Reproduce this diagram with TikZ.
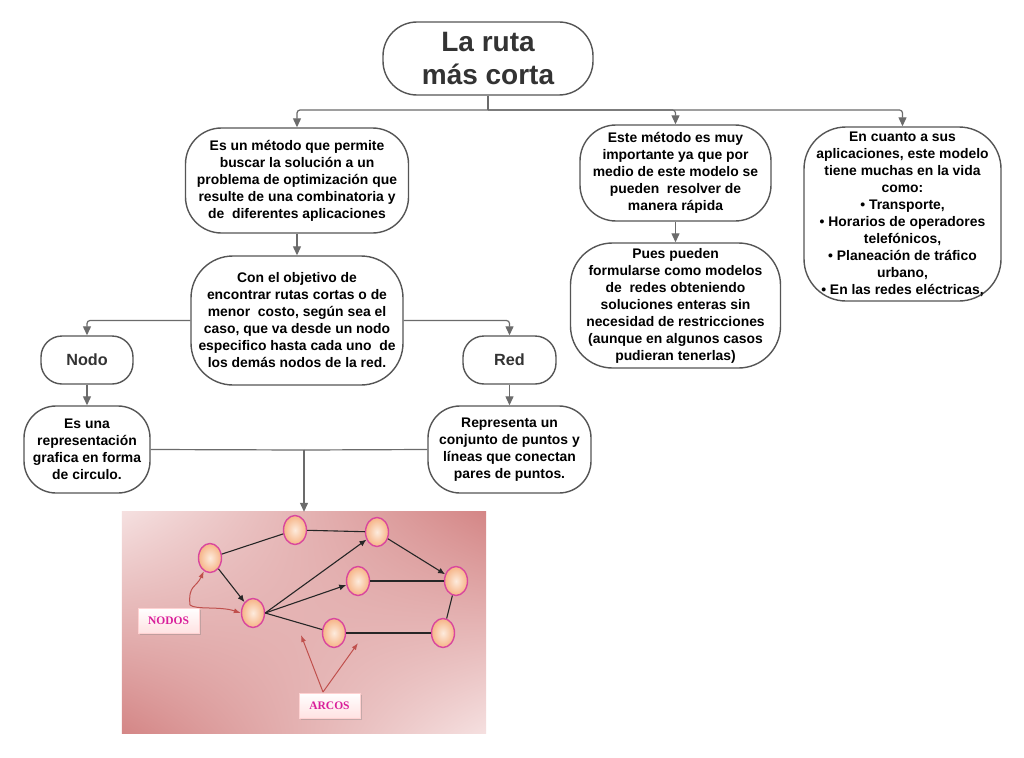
\documentclass[tikz,border=0pt]{standalone}
\usepackage{fontspec}
\setmainfont{Liberation Sans}
\newfontfamily\serifl{Liberation Serif}
\usetikzlibrary{arrows.meta,shapes.geometric,shadows,shadings}
\definecolor{boxgray}{HTML}{555555}
\definecolor{linegray}{HTML}{6B6B6B}
\definecolor{titlegray}{HTML}{333333}
\definecolor{pinkdark}{HTML}{D48686}
\definecolor{pinklight}{HTML}{F5E0E0}
\definecolor{nodeedge}{HTML}{D9479E}
\definecolor{peach}{HTML}{F6B486}
\definecolor{peachlight}{HTML}{FDEBDD}
\definecolor{labmag}{HTML}{D91E9A}
\definecolor{redarrow}{HTML}{C0504D}
\tikzset{
  box/.style={draw=boxgray, line width=1.4pt, fill=white, align=center, inner sep=2pt,
    font=\bfseries\fontsize{13.9}{17}\selectfont},
  bigbox/.style={box, font=\bfseries\fontsize{16.2}{20}\selectfont, text=titlegray},
  conn/.style={draw=linegray, line width=1.2pt},
  arrow/.style={conn, -{Triangle[width=8pt,length=9pt]}, rounded corners=3pt},
  gnode/.style={ellipse, draw=nodeedge, line width=1.4pt, minimum width=23pt, minimum height=29pt,
    inner sep=0pt, inner color=peachlight, outer color=peach},
  gedge/.style={draw=black!85, line width=1.1pt},
  garrow/.style={gedge, -{Latex[length=7pt,width=6pt]}},
  lab/.style={draw=pink!70!white, line width=0.6pt, top color=white, bottom color=pink!45!white,
    drop shadow={shadow xshift=1.5pt, shadow yshift=-1.5pt, opacity=0.35},
    text=labmag, font=\serifl\bfseries\fontsize{11.5}{13}\selectfont, minimum width=61pt, minimum height=25pt, inner sep=1pt},
  redarr/.style={draw=redarrow, line width=1pt, -{Latex[length=7pt,width=5pt]}}
}
\begin{document}
\begin{tikzpicture}[x={(1pt,0)}, y={(0,-1pt)}]
\useasboundingbox (0,0) rectangle (1024,757);
\fill[white] (0,0) rectangle (1024,757);

% title
\node[box, minimum width=210pt, minimum height=73pt, rounded corners=34pt,
  font=\bfseries\fontsize{28}{33}\selectfont, text=titlegray] (T) at (488,58.5) {La ruta\\más corta};

\node[box, minimum width=223pt, minimum height=105pt, rounded corners=36pt] (A) at (297,180.5)
 {Es un método que permite\\buscar la solución a un\\problema de optimización que\\resulte de una combinatoria y\\de~ diferentes aplicaciones};
\node[box, minimum width=212pt, minimum height=129pt, rounded corners=42pt] (B) at (297,320.5)
 {Con el objetivo de\\encontrar rutas cortas o de\\menor~ costo, según sea el\\caso, que va desde un nodo\\especifico hasta cada uno~ de\\los demás nodos de la red.};
\node[box, minimum width=191pt, minimum height=96pt, rounded corners=36pt] (C) at (675.5,173)
 {Este método es muy\\importante ya que por\\medio de este modelo se\\pueden~ resolver de\\manera rápida};
\node[box, minimum width=210pt, minimum height=125pt, rounded corners=42pt] (D) at (675.5,305.5)
 {Pues pueden\\formularse como modelos\\de~ redes obteniendo\\soluciones enteras sin\\necesidad de restricciones\\(aunque en algunos casos\\pudieran tenerlas)};
\node[box, minimum width=197pt, minimum height=174pt, rounded corners=42pt] (E) at (902.5,214)
 {En cuanto a sus\\aplicaciones, este modelo\\tiene muchas en la vida\\como:\\• Transporte,\\• Horarios de operadores\\telefónicos,\\• Planeación de tráfico\\urbano,\\• En las redes eléctricas,};
\node[bigbox, minimum width=92pt, minimum height=48pt, rounded corners=21pt] (N) at (87,360) {Nodo};
\node[bigbox, minimum width=93pt, minimum height=48pt, rounded corners=21pt] (R) at (509.5,360) {Red};
\node[box, minimum width=126pt, minimum height=87pt, rounded corners=32pt] (F) at (87,449.5)
 {Es una\\representación\\grafica en forma\\de circulo.};
\node[box, minimum width=163pt, minimum height=87pt, rounded corners=32pt] (G) at (509.5,449.5)
 {Representa un\\conjunto de puntos y\\líneas que conectan\\pares de puntos.};

% picture
\node[minimum width=364pt, minimum height=221pt, inner sep=0pt] (img) at (304,622.5) {};
\shade[upper left=pinklight, upper right=pinkdark, lower left=pinkdark, lower right=pinklight]
  (img.north west) rectangle (img.south east);

% connectors
\coordinate (j1) at (488,110);
\draw[conn] (T.south) -- (j1);
\draw[arrow] (j1) -| (A.north);
\draw[arrow] (j1) -| (C.north);
\draw[arrow] (j1) -| (E.north);
\draw[arrow] (A.south) -- (B.north);
\draw[arrow] (C.south) -- (D.north);
\draw[arrow] (B.west) -| (N.north);
\draw[arrow] (B.east) -| (R.north);
\draw[arrow] (N.south) -- (F.north);
\draw[arrow] (R.south) -- (G.north);
\coordinate (j2) at (304,450);
\draw[conn] (F.east) -- (j2);
\draw[conn] (G.west) -- (j2);
\draw[arrow] (j2) -- (img.north);

% graph
\node[gnode] (n1) at (210,558) {};
\node[gnode] (n2) at (295,530) {};
\node[gnode] (n3) at (377,532) {};
\node[gnode] (n4) at (253,613) {};
\node[gnode] (n5) at (358,581) {};
\node[gnode] (n6) at (456,581) {};
\node[gnode] (n7) at (334,633) {};
\node[gnode] (n8) at (443,633) {};
\draw[gedge] (n1) -- (n2);
\draw[gedge] (n2) -- (n3);
\draw[garrow] (n3) -- (n6);
\draw[garrow] (n1) -- (n4);
\draw[garrow] (n4.east) -- (n3);
\draw[garrow] (n4.east) -- (n5);
\draw[gedge] (n4.east) -- (n7);
\draw[gedge] (n5) -- (n6);
\draw[gedge] (n6) -- (n8);
\draw[gedge] (n7) -- (n8);

% labels
\node[lab] (nodos) at (168.5,620.5) {NODOS};
\node[lab] (arcos) at (329.5,705.5) {ARCOS};
\coordinate (ns) at (190,605);
\draw[redarr] (ns) .. controls (188,585) and (196,588) .. (n1.245);
\draw[redarr] (ns) .. controls (196,610) and (220,606) .. (n4.west);
\coordinate (as) at (323,692);
\coordinate (a1) at (301,635);
\coordinate (a2) at (358,643);
\draw[redarr] (as) -- (a1);
\draw[redarr] (as) -- (a2);
\end{tikzpicture}
\end{document}
